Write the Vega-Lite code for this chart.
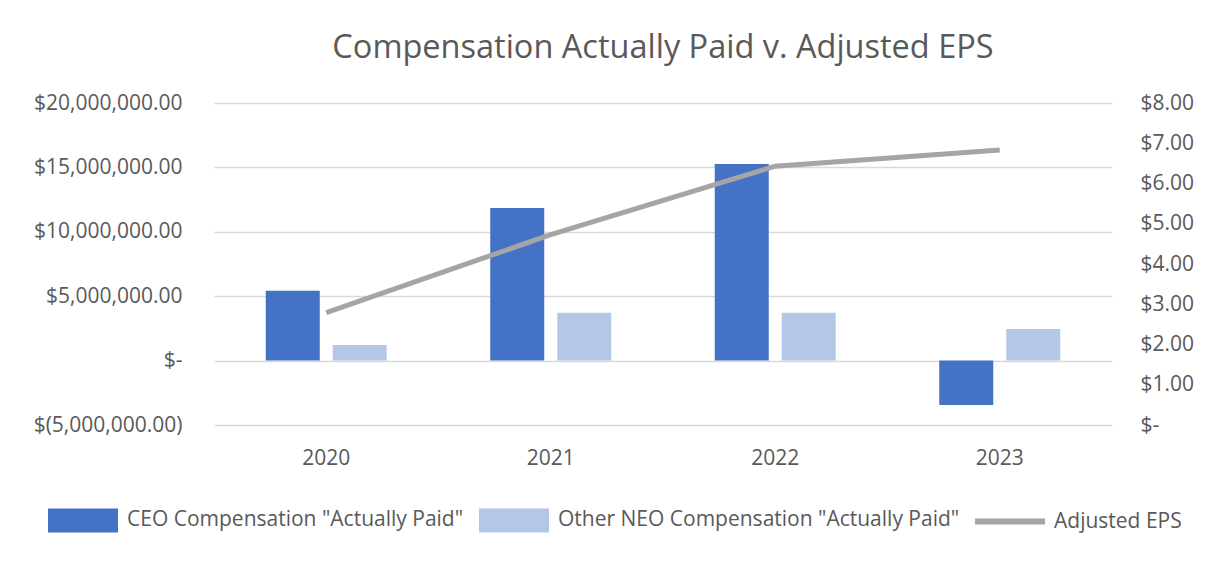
{
  "$schema": "https://vega.github.io/schema/vega-lite/v6.json",
  "autosize": {"type": "none"},
  "padding": {"left": 214, "top": 103, "right": 114, "bottom": 151},
  "width": 898,
  "height": 322,
  "background": "white",
  "title": {
    "text": "Compensation Actually Paid v. Adjusted EPS",
    "font": "Open Sans",
    "fontSize": 32.5,
    "fontWeight": "normal",
    "color": "#595959",
    "anchor": "middle",
    "offset": 28
  },
  "datasets": {
    "comp": [
      {"year": "2020", "series": "CEO Compensation \"Actually Paid\"", "value": 5430000},
      {"year": "2020", "series": "Other NEO Compensation \"Actually Paid\"", "value": 1210000},
      {"year": "2021", "series": "CEO Compensation \"Actually Paid\"", "value": 11840000},
      {"year": "2021", "series": "Other NEO Compensation \"Actually Paid\"", "value": 3710000},
      {"year": "2022", "series": "CEO Compensation \"Actually Paid\"", "value": 15270000},
      {"year": "2022", "series": "Other NEO Compensation \"Actually Paid\"", "value": 3710000},
      {"year": "2023", "series": "CEO Compensation \"Actually Paid\"", "value": -3450000},
      {"year": "2023", "series": "Other NEO Compensation \"Actually Paid\"", "value": 2460000}
    ],
    "eps": [
      {"year": "2020", "series": "Adjusted EPS", "eps": 2.79},
      {"year": "2021", "series": "Adjusted EPS", "eps": 4.73},
      {"year": "2022", "series": "Adjusted EPS", "eps": 6.43},
      {"year": "2023", "series": "Adjusted EPS", "eps": 6.83}
    ]
  },
  "encoding": {
    "x": {
      "field": "year",
      "type": "nominal",
      "scale": {"paddingInner": 0.461, "paddingOuter": 0.2305},
      "axis": {
        "title": null,
        "labelAngle": 0,
        "ticks": false,
        "domain": false,
        "grid": false,
        "labelFont": "Open Sans",
        "labelFontSize": 21,
        "labelColor": "#595959",
        "labelPadding": 22
      }
    }
  },
  "layer": [
    {
      "data": {"name": "comp"},
      "mark": {"type": "bar"},
      "encoding": {
        "xOffset": {
          "field": "series",
          "type": "nominal",
          "scale": {"paddingInner": 0.194, "paddingOuter": 0, "domain": ["CEO Compensation \"Actually Paid\"", "Other NEO Compensation \"Actually Paid\""]}
        },
        "y": {
          "field": "value",
          "type": "quantitative",
          "scale": {"domain": [-5000000, 20000000], "nice": false, "zero": false},
          "axis": {
            "title": null,
            "values": [-5000000, 0, 5000000, 10000000, 15000000, 20000000],
            "labelExpr": "datum.value == 0 ? '$-' : (datum.value < 0 ? '$(' + format(-datum.value, ',.2f') + ')' : '$' + format(datum.value, ',.2f'))",
            "ticks": false,
            "domain": false,
            "grid": true,
            "gridColor": "#d9d9d9",
            "gridWidth": 1.4,
            "labelFont": "Open Sans",
            "labelFontSize": 21,
            "labelColor": "#595959",
            "labelPadding": 32
          }
        },
        "color": {
          "field": "series",
          "type": "nominal",
          "scale": {
            "domain": ["CEO Compensation \"Actually Paid\"", "Other NEO Compensation \"Actually Paid\"", "Adjusted EPS"],
            "range": ["#4472c4", "#b4c7e7", "#a5a5a5"]
          },
          "legend": {
            "title": null,
            "orient": "none",
            "legendX": -166,
            "legendY": 382,
            "direction": "horizontal",
            "padding": 0,
            "labelFont": "Open Sans",
            "labelFontSize": 21,
            "labelColor": "#595959",
            "labelLimit": 0,
            "labelOffset": 9,
            "columnPadding": 15,
            "symbolSize": 4900,
            "encode": {
              "symbols": {
                "update": {
                  "shape": {"signal": "datum.value === 'Adjusted EPS' ? 'M-1,-0.085H1V0.085H-1Z' : 'M-1,-0.343H1V0.343H-1Z'"},
                  "fill": {"scale": "color", "field": "value"},
                  "fillOpacity": {"value": 1},
                  "opacity": {"value": 1},
                  "strokeWidth": {"value": 0}
                }
              }
            }
          }
        }
      }
    },
    {
      "data": {"name": "eps"},
      "mark": {"type": "line", "strokeWidth": 5, "strokeCap": "butt"},
      "encoding": {
        "y": {
          "field": "eps",
          "type": "quantitative",
          "scale": {"domain": [0, 8], "nice": false},
          "axis": {
            "title": null,
            "orient": "right",
            "values": [0, 1, 2, 3, 4, 5, 6, 7, 8],
            "labelExpr": "datum.value == 0 ? '$-' : '$' + format(datum.value, '.2f')",
            "ticks": false,
            "domain": false,
            "grid": false,
            "labelFont": "Open Sans",
            "labelFontSize": 21,
            "labelColor": "#595959",
            "labelPadding": 28
          }
        },
        "color": {"field": "series", "type": "nominal"}
      }
    }
  ],
  "resolve": {"scale": {"y": "independent"}},
  "config": {"view": {"stroke": null}}
}
